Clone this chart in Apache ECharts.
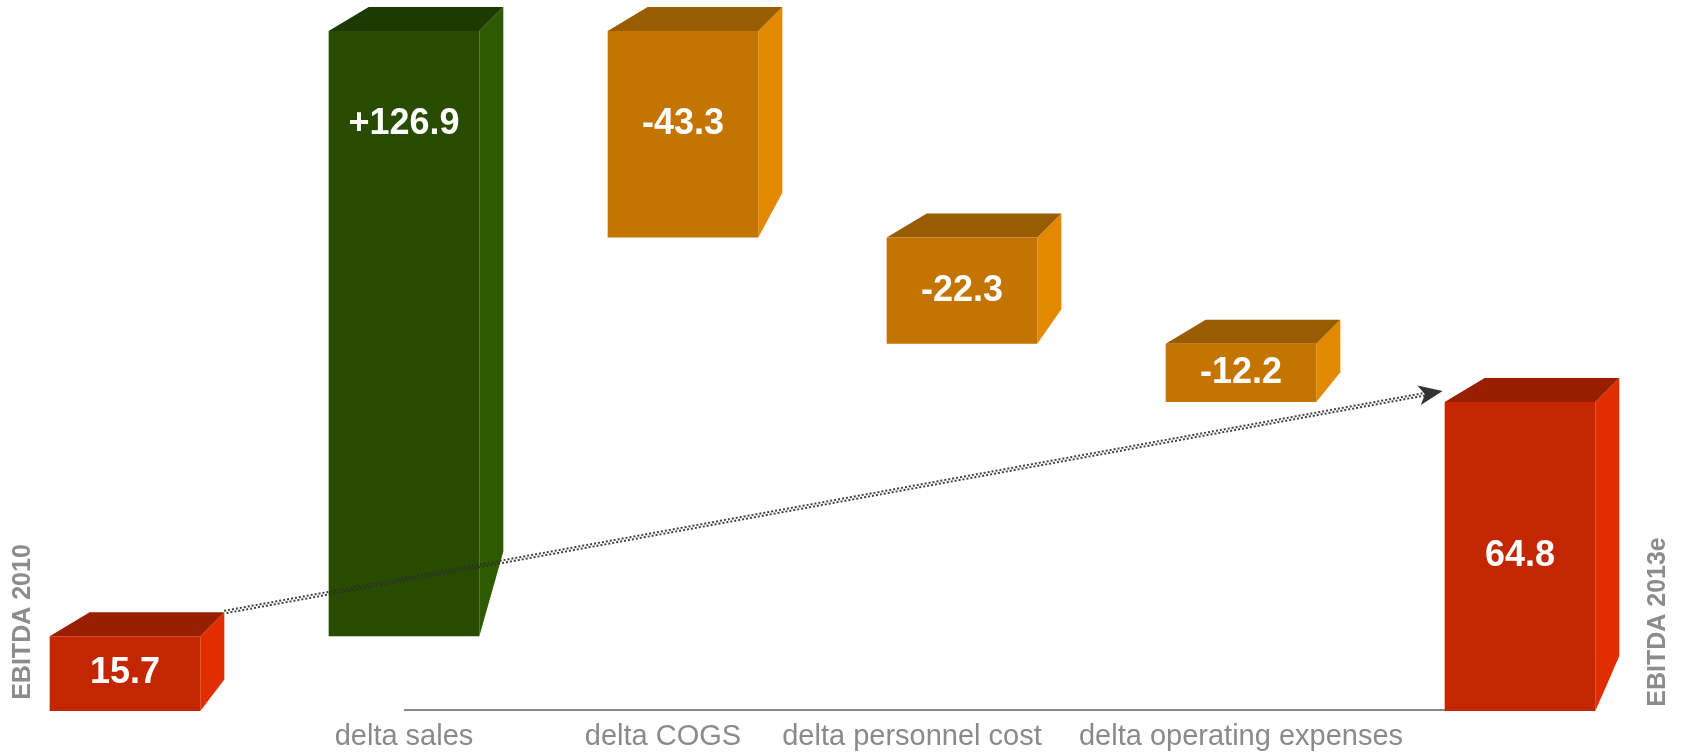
<!DOCTYPE html>
<html>
<head>
<meta charset="utf-8">
<title>EBITDA bridge 2010 to 2013e</title>
<script src="https://cdn.jsdelivr.net/npm/echarts@6/dist/echarts.min.js"></script>
<style>
  html, body { margin: 0; padding: 0; background: #ffffff; }
  #chart { width: 1684px; height: 755px; }
</style>
</head>
<body>
<div id="chart"></div>
<script>
// EBITDA bridge: start value, changes, end value
const categories = ['EBITDA 2010', 'delta sales', 'delta COGS', 'delta personnel cost', 'delta operating expenses', 'EBITDA 2013e'];
const values = [15.7, 126.9, -43.3, -22.3, -12.2, 64.8];
const kinds = ['total', 'delta', 'delta', 'delta', 'delta', 'total'];

const FONT = '"Liberation Sans", Arial, Helvetica, sans-serif';

// face colours of the 3D boxes: front, top, side
const PALETTE = {
  total: { front: '#C42600', top: '#9A1F00', side: '#E22D00' },
  up:    { front: '#274C00', top: '#1D3A00', side: '#2E5B00' },
  down:  { front: '#C47400', top: '#995C00', side: '#E38900' }
};

// running sum -> floating segment for each step
const lows = [], highs = [];
let run = 0;
values.forEach((v, i) => {
  if (kinds[i] === 'total') {
    lows.push(0); highs.push(v); run = v;
  } else {
    const end = run + v;
    lows.push(Math.min(run, end)); highs.push(Math.max(run, end)); run = end;
  }
});
const labelText = values.map((v, i) =>
  kinds[i] === 'delta' && v > 0 ? '+' + v.toFixed(1) : v.toFixed(1));
const seriesData = categories.map((c, i) => [i, lows[i], highs[i]]);
const yMax = Math.max(...highs);
const last = categories.length - 1;

const DX_L = 40, DX_R = 24, DY = 24;   // box depth offsets

function boxCorners(api, i) {
  const step = api.size([1, 0])[0];
  const w = step * 0.54;
  const pTop = api.coord([i, highs[i]]);
  const pBot = api.coord([i, lows[i]]);
  return { x1: pTop[0] - w / 2, x2: pTop[0] + w / 2, cx: pTop[0], yt: pTop[1], yb: pBot[1] };
}

// dotted band: two staggered dashed strokes
function dottedBand(sx, sy, ex, ey) {
  const ang = Math.atan2(ey - sy, ex - sx);
  const nx = -Math.sin(ang) * 1.3, ny = Math.cos(ang) * 1.3;
  return [-1, 1].map((k, j) => ({
    type: 'line', z2: 20,
    shape: { x1: sx + nx * k, y1: sy + ny * k, x2: ex + nx * k, y2: ey + ny * k },
    style: { stroke: '#2e2e2e', lineWidth: 2, lineDash: [2, 2], lineDashOffset: j * 2, opacity: 0.9 }
  }));
}

function renderItem(params, api) {
  const i = api.value(0);
  const b = boxCorners(api, i);
  const h = b.yb - b.yt;
  const pal = kinds[i] === 'total' ? PALETTE.total : (values[i] >= 0 ? PALETTE.up : PALETTE.down);
  const sideDrop = DY + 0.1 * h;
  const children = [];

  // baseline under the change steps
  if (i === 1) {
    const g0 = api.coord([1, 0]);
    const g1 = api.coord([last, 0]);
    children.push({
      type: 'line', z2: 0,
      shape: { x1: g0[0], y1: g0[1] - 1, x2: g1[0], y2: g1[1] - 1 },
      style: { stroke: '#8a8a8a', lineWidth: 2 }
    });
  }

  children.push(
    { type: 'polygon', z2: 1,
      shape: { points: [[b.x2, b.yt], [b.x2 + DX_R, b.yt - DY], [b.x2 + DX_R, b.yb - sideDrop], [b.x2, b.yb]] },
      style: { fill: pal.side } },
    { type: 'polygon', z2: 1,
      shape: { points: [[b.x1, b.yt], [b.x1 + DX_L, b.yt - DY], [b.x2 + DX_R, b.yt - DY], [b.x2, b.yt]] },
      style: { fill: pal.top } },
    { type: 'rect', z2: 2,
      shape: { x: b.x1, y: b.yt, width: b.x2 - b.x1, height: h },
      style: { fill: pal.front } }
  );

  const ly = kinds[i] === 'total' ? b.yt + h / 2 : b.yt + Math.min(h / 2, 93);
  children.push({
    type: 'text', z2: 5,
    x: b.cx, y: ly,
    style: { text: labelText[i], fill: '#ffffff', font: 'bold 36px ' + FONT, align: 'center', verticalAlign: 'middle' }
  });

  // vertical names for the two totals
  if (kinds[i] === 'total') {
    const nx = i === 0 ? b.x1 - 27 : b.x2 + 63;
    children.push({
      type: 'text', z2: 5,
      x: nx, y: b.yb - 89, rotation: Math.PI / 2,
      style: { text: categories[i], fill: '#8c8c8c', font: 'bold 25px ' + FONT, align: 'center', verticalAlign: 'middle' }
    });
  }

  // dotted arrow from the first total to the last one
  if (i === last) {
    const a = boxCorners(api, 0);
    const sx = a.x2 + DX_R, sy = a.yt - DY;
    const tx = b.x1 - 2, ty = b.yt - 11;
    const ang = Math.atan2(ty - sy, tx - sx);
    const dx = Math.cos(ang), dy = Math.sin(ang);
    const L = 24, W = 10;
    children.push(...dottedBand(sx, sy, tx - dx * L * 0.7, ty - dy * L * 0.7));
    children.push({
      type: 'polygon', z2: 21,
      shape: { points: [[tx, ty], [tx - dx * L - dy * W, ty - dy * L + dx * W], [tx - dx * L * 0.75, ty - dy * L * 0.75], [tx - dx * L + dy * W, ty - dy * L - dx * W]] },
      style: { fill: '#333333' }
    });
  }

  return { type: 'group', children };
}

// axis entries; the long middle labels are nudged left so neighbours do not collide
const labelNudge = { 'delta COGS': 40, 'delta personnel cost': 100 };
const axisData = categories.map(c =>
  labelNudge[c] ? { value: c, textStyle: { padding: [0, labelNudge[c], 0, 0] } } : c);

const chart = echarts.init(document.getElementById('chart'), null, { renderer: 'canvas' });
chart.setOption({
  backgroundColor: '#ffffff',
  animation: false,
  grid: { left: 125, right: 164, top: 31, bottom: 44 },
  xAxis: {
    type: 'category',
    data: axisData,
    boundaryGap: false,
    axisLine: { show: false },
    axisTick: { show: false },
    splitLine: { show: false },
    axisLabel: {
      interval: 0,
      margin: 11,
      color: '#8a8a8a',
      fontFamily: FONT,
      fontSize: 29,
      formatter: (v, idx) => (kinds[idx] === 'total' ? '' : v)
    }
  },
  yAxis: {
    type: 'value',
    min: 0,
    max: yMax,
    show: false
  },
  series: [{
    type: 'custom',
    renderItem,
    clip: false,
    encode: { x: 0, y: [1, 2] },
    data: seriesData
  }]
});
</script>
</body>
</html>
